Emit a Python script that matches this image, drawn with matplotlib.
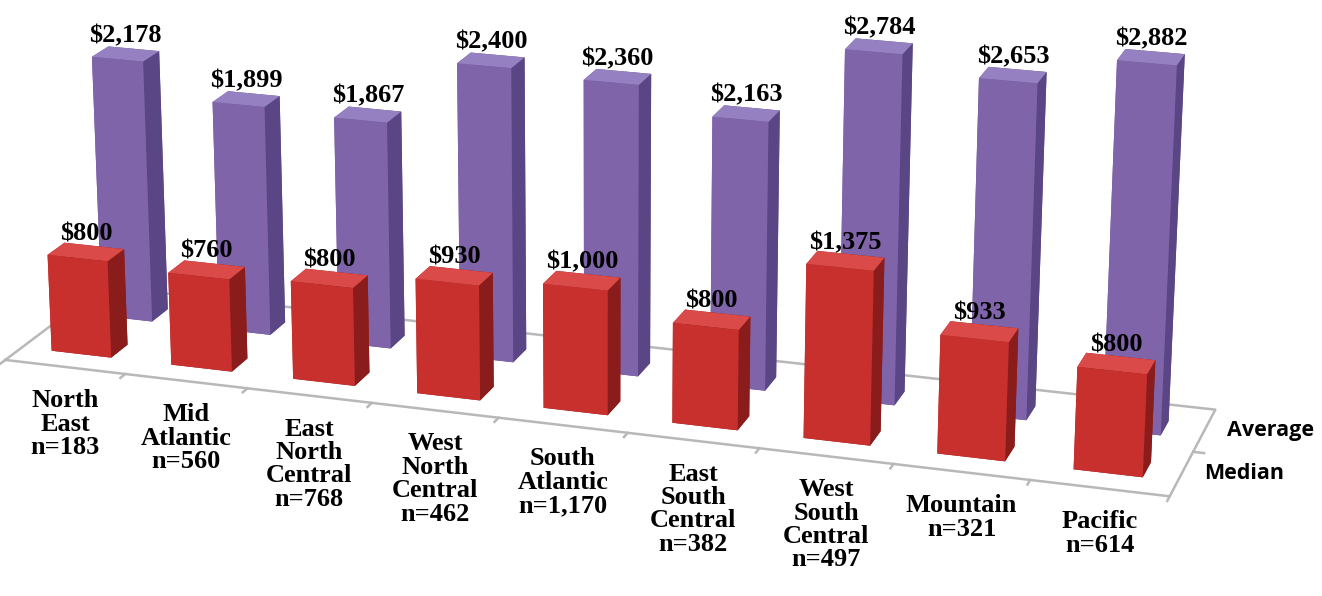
import numpy as np
import matplotlib.pyplot as plt

categories = ["North\nEast\nn=183", "Mid\nAtlantic\nn=560", "East\nNorth\nCentral\nn=768",
              "West\nNorth\nCentral\nn=462", "South\nAtlantic\nn=1,170", "East\nSouth\nCentral\nn=382",
              "West\nSouth\nCentral\nn=497", "Mountain\nn=321", "Pacific\nn=614"]
series = ["Median", "Average"]
median = [800, 760, 800, 930, 1000, 800, 1375, 933, 800]
average = [2178, 1899, 1867, 2400, 2360, 2163, 2784, 2653, 2882]

# face colours: bottom, top, front, back, left, right
red_faces = ["#8f1e1e", "#d94a48", "#c8302e", "#8f1e1e", "#a82424", "#8a1c1c"]
purple_faces = ["#5f4a8a", "#9580c2", "#8064aa", "#5f4a8a", "#6e579c", "#5a4684"]

fig = plt.figure(figsize=(13.22, 5.96), dpi=100)
# tall axes so the square 3d viewport spans the full figure width
ax = fig.add_axes([-0.059, -0.465, 1, 2.2], projection="3d")
ax.set_proj_type("persp", focal_length=0.6)
ax.set_axis_off()

n = len(categories)
bar_w = [0.5, 0.43]  # bar width (x) per row
bd = 0.34  # bar depth (y)
row_y = [0.5, 1.45]
xs, ys, ws, hs, cols = [], [], [], [], []
for row, (vals, fc) in enumerate([(median, red_faces), (average, purple_faces)]):
    for i, v in enumerate(vals):
        xs.append(i + 0.5 - bar_w[row] / 2)
        ys.append(row_y[row] - bd / 2)
        ws.append(bar_w[row])
        hs.append(v)
        cols.extend(fc)
ax.bar3d(xs, ys, np.zeros(len(xs)), ws, bd, hs, color=cols, shade=False, edgecolor="none")

# floor outline
gray = "#b8b8b8"
ax.plot([0, n, n, 0, 0], [0, 0, 2, 2, 0], [0, 0, 0, 0, 0], color=gray, lw=1.8)
for i in range(n + 1):
    ax.plot([i, i], [0, -0.1], [0, 0], color=gray, lw=1.8)
ax.plot([n, n + 0.08], [1, 1], [0, 0], color=gray, lw=1.8)

ax.set_xlim(0, n)
ax.set_ylim(0, 2)
ax.set_zlim(0, 3000)
ax.view_init(elev=18, azim=-72)
ax.set_box_aspect((6.0, 1.2, 1.95), zoom=0.96)

# labels are placed in 2D at projected 3D anchor points
fig.canvas.draw()
M = ax.M


def proj(x, y, z):
    v = M @ np.array([x, y, z, 1.0])
    return v[0] / v[3], v[1] / v[3]


lab_font = dict(fontsize=19, fontweight="bold", family="Liberation Serif")

for row, vals in enumerate([median, average]):
    for i, v in enumerate(vals):
        ax.annotate(f"${v:,}", proj(i + 0.5, row_y[row], v), xytext=(0, 5), textcoords="offset points",
                    ha="center", va="bottom", **lab_font)

for i, lab in enumerate(categories):
    ax.annotate(lab, proj(i + 0.5, 0, 0), xytext=(0, -16), textcoords="offset points",
                ha="center", va="top", linespacing=1.02, **lab_font)

for row, s in enumerate(series):
    ax.annotate(s, proj(n, row + 0.5, 0), xytext=(16, 0), textcoords="offset points",
                ha="left", va="center", fontsize=15.5, fontweight="bold", family="Open Sans")

fig.savefig("out.png", dpi=100)
